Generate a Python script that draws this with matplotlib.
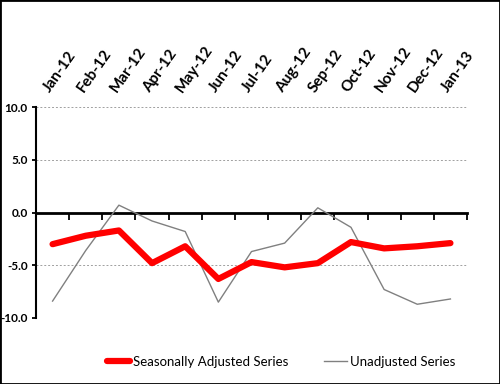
import numpy as np
import matplotlib.pyplot as plt
from matplotlib.ticker import FixedLocator
from matplotlib.patches import Rectangle

plt.rcParams['font.family'] = ['Lato', 'DejaVu Sans']

# Data
months = ['Jan-12', 'Feb-12', 'Mar-12', 'Apr-12', 'May-12', 'Jun-12', 'Jul-12',
          'Aug-12', 'Sep-12', 'Oct-12', 'Nov-12', 'Dec-12', 'Jan-13']
seasonally_adjusted = [-3.0, -2.2, -1.7, -4.8, -3.2, -6.3, -4.7,
                       -5.2, -4.8, -2.8, -3.4, -3.2, -2.9]
unadjusted = [-8.4, -3.6, 0.7, -0.8, -1.8, -8.5, -3.7,
              -2.9, 0.45, -1.4, -7.3, -8.7, -8.2]
y_ticks = [-10, -5, 0, 5, 10]

fig = plt.figure(figsize=(5, 3.84), dpi=100)
ax = fig.add_axes([0.072, 0.172, 0.862, 0.549])

x = np.arange(len(months))
ax.plot(x, seasonally_adjusted, color='#ff0000', lw=4.5, solid_capstyle='round',
        label='Seasonally Adjusted Series', zorder=4)
ax.plot(x, unadjusted, color='#808080', lw=1.0, label='Unadjusted Series', zorder=3)

ax.set_xlim(-0.5, len(months) - 0.5)
ax.set_ylim(-10, 10)

# dotted gridlines
for v in y_ticks:
    if v != 0:
        ax.axhline(v, color='#a0a0a0', lw=0.7, ls=(0, (2, 2)), zorder=1)

# axes styling
for s in ['top', 'right']:
    ax.spines[s].set_visible(False)
ax.spines['left'].set_linewidth(1.5)
ax.spines['bottom'].set_position(('data', 0))
ax.spines['bottom'].set_linewidth(2)

# major ticks at category edges on the zero line, month labels on top (minor ticks)
ax.set_xticks(np.arange(-0.5, len(months), 1))
ax.set_xticklabels([])
ax.tick_params(axis='x', which='major', direction='out', length=5, width=1.3)
ax.xaxis.set_minor_locator(FixedLocator(x))
ax.set_xticklabels(months, minor=True, rotation=55, ha='left', va='bottom',
                   rotation_mode='anchor', fontsize=11, fontweight='bold')
ax.tick_params(axis='x', which='minor', length=0, top=False, bottom=False,
               labeltop=True, labelbottom=False, pad=9)

ax.set_yticks(y_ticks)
ax.set_yticklabels(['%.1f' % v for v in y_ticks], fontsize=8.5, fontweight='bold')
ax.tick_params(axis='y', direction='out', length=3, width=1.3, pad=3)

fig.legend(loc='center left', bbox_to_anchor=(0.204, 0.057), ncol=2, frameon=False,
           fontsize=9.5, handlelength=1.75, handletextpad=0.2, columnspacing=2.7,
           borderaxespad=0)

# black border round the picture
fig.patches.append(Rectangle((0, 0), 1, 1, transform=fig.transFigure,
                             fill=False, edgecolor='black', lw=2))

fig.savefig('out.png', dpi=100)
